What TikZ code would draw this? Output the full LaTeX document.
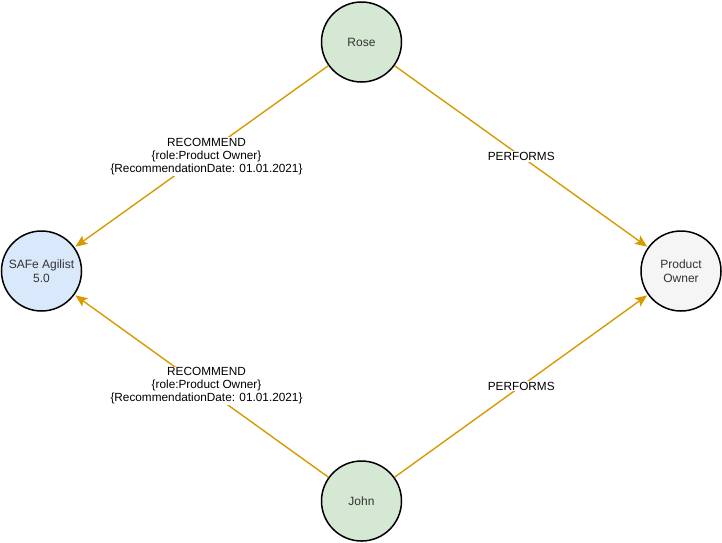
\documentclass[tikz,border=0pt]{standalone}
\usepackage{fontspec}
\setmainfont{Liberation Sans}
\usetikzlibrary{arrows.meta}
\definecolor{greenfill}{HTML}{D5E8D4}
\definecolor{bluefill}{HTML}{DAE8FC}
\definecolor{grayfill}{HTML}{F5F5F5}
\definecolor{graytext}{HTML}{333333}
\definecolor{edgecol}{HTML}{D79B00}
\tikzset{
  circnode/.style={circle, draw=black, line width=1.5pt, minimum size=80pt, inner sep=0pt, align=center, font=\fontsize{12pt}{14pt}\selectfont},
  edge/.style={draw=edgecol, line width=1.4pt, -{Stealth[length=12pt,width=10pt,inset=2.5pt]}, shorten >=1pt},
  elabel/.style={fill=white, inner sep=1pt, align=center, font=\fontsize{11.8pt}{13pt}\selectfont, text=black}
}
\begin{document}
\begin{tikzpicture}[x=1pt,y=-1pt]
\useasboundingbox (0,0) rectangle (722,542);
\node[circnode, fill=greenfill, text=graytext] (rose) at (361.5,42) {Rose};
\node[circnode, fill=bluefill, text=graytext] (safe) at (41.5,271) {SAFe Agilist\\5.0};
\node[circnode, fill=grayfill, text=graytext] (po) at (681,271) {Product\\Owner};
\node[circnode, fill=greenfill, text=graytext] (john) at (361.5,501) {John};
\draw[edge] (rose) -- node[elabel, xshift=5pt] {RECOMMEND\\\{role:Product Owner\}\\\{RecommendationDate: 01.01.2021\}} (safe);
\draw[edge] (john) -- node[elabel, xshift=5pt] {RECOMMEND\\\{role:Product Owner\}\\\{RecommendationDate: 01.01.2021\}} (safe);
\draw[edge] (rose) -- node[elabel] {PERFORMS} (po);
\draw[edge] (john) -- node[elabel] {PERFORMS} (po);
\end{tikzpicture}
\end{document}
